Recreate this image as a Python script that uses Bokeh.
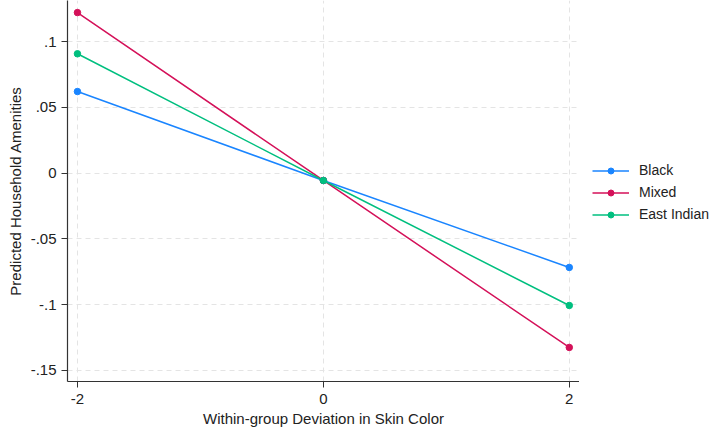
from bokeh.plotting import figure
from bokeh.layouts import row
from bokeh.models import Range1d, Legend, LegendItem, FixedTicker
from bokeh.embed import file_html
from bokeh.resources import INLINE

# Predicted household amenities by within-group skin color deviation
deviation = [-2, 0, 2]
black = [0.062, -0.0056, -0.0717]
mixed = [0.122, -0.0056, -0.1325]
east_indian = [0.0907, -0.0056, -0.1006]

y_ticks = [-0.15, -0.1, -0.05, 0, 0.05, 0.1]
y_tick_labels = ["-.15", "-.1", "-.05", "0", ".05", ".1"]
x_ticks = [-2, 0, 2]
x_tick_labels = ["-2", "0", "2"]

series = [
    ("Black", black, "#1a85ff"),
    ("Mixed", mixed, "#d41159"),
    ("East Indian", east_indian, "#00bf7f"),
]

FONT = "Liberation Sans"
TEXT_COLOR = "#222222"

p = figure(
    width=579, height=430,
    output_backend="svg", toolbar_location=None,
    x_range=Range1d(-2.081, 2.083),
    y_range=Range1d(-0.1584, 0.1312),
    min_border_left=67, min_border_right=0,
    min_border_top=0, min_border_bottom=49,
)
p.outline_line_color = None
p.background_fill_color = "white"
p.border_fill_color = "white"

for name, vals, color in series:
    p.line(deviation, vals, line_color=color, line_width=1.5)
    p.scatter(deviation, vals, size=6.5, fill_color=color, line_color=color)

# dashed light grid at the tick positions
for g in (p.xgrid, p.ygrid):
    g.grid_line_color = "#e4e4e4"
    g.grid_line_dash = "5 4"
    g.grid_line_width = 1
p.xgrid.ticker = FixedTicker(ticks=x_ticks)
p.ygrid.ticker = FixedTicker(ticks=y_ticks)

# axes
p.xaxis.ticker = FixedTicker(ticks=x_ticks)
p.xaxis.major_label_overrides = {t: l for t, l in zip(x_ticks, x_tick_labels)}
p.yaxis.ticker = FixedTicker(ticks=y_ticks)
p.yaxis.major_label_overrides = {t: l for t, l in zip(y_ticks, y_tick_labels)}
p.yaxis.major_label_orientation = "horizontal"
for ax in (p.xaxis, p.yaxis):
    ax.axis_line_color = "#333333"
    ax.axis_line_width = 1.2
    ax.major_tick_line_color = "#333333"
    ax.major_tick_out = 6
    ax.major_tick_in = 0
    ax.minor_tick_line_color = None
    ax.major_label_text_font = FONT
    ax.major_label_text_font_size = "15px"
    ax.major_label_text_color = TEXT_COLOR
    ax.axis_label_text_font = FONT
    ax.axis_label_text_font_size = "15px"
    ax.axis_label_text_font_style = "normal"
    ax.axis_label_text_color = TEXT_COLOR
p.xaxis.axis_label = "Within-group Deviation in Skin Color"
p.yaxis.axis_label = "Predicted Household Amenities"
p.xaxis.major_label_standoff = 6
p.yaxis.major_label_standoff = 5
p.xaxis.axis_label_standoff = 3
p.yaxis.axis_label_standoff = 4

# legend panel to the right of the plot; its key renderers sit outside
# the panel's visible range so only the legend entries show
lp = figure(
    width=141, height=430,
    output_backend="svg", toolbar_location=None,
    x_axis_type=None, y_axis_type=None,
    x_range=Range1d(0, 1), y_range=Range1d(0, 1),
    min_border=0,
)
lp.outline_line_color = None
lp.xgrid.visible = False
lp.ygrid.visible = False

items = []
for name, vals, color in series:
    r1 = lp.line(x=[-10, -9], y=[-10, -10], line_color=color, line_width=1.5)
    r2 = lp.scatter(x=[-10], y=[-10], size=6.5, fill_color=color, line_color=color)
    items.append(LegendItem(label=name, renderers=[r1, r2]))

legend = Legend(
    items=items, location=(13, 159),
    label_text_font=FONT, label_text_font_size="14px",
    label_text_color=TEXT_COLOR,
    glyph_width=37, glyph_height=15, label_standoff=10,
    spacing=6, padding=0, margin=0,
    border_line_color=None, background_fill_alpha=0,
)
lp.add_layout(legend)

open("out.html", "w").write(file_html(row(p, lp), INLINE))
